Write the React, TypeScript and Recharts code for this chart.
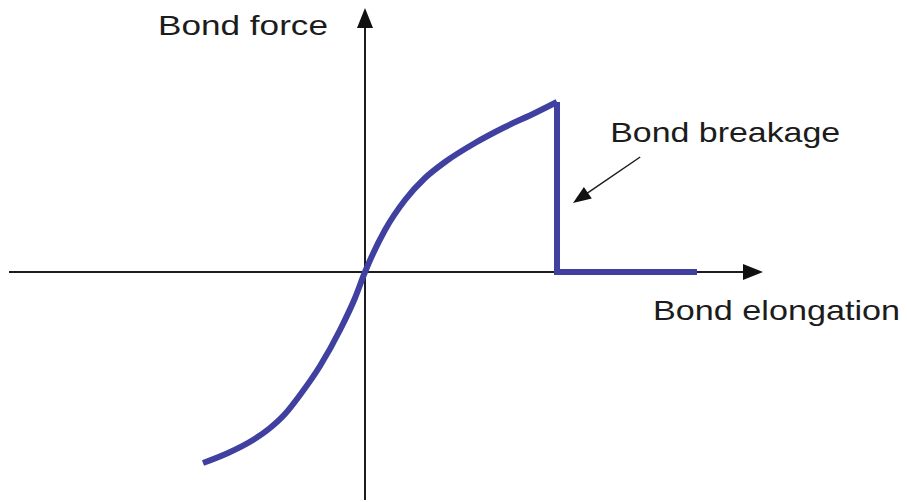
import React from "react";
import { LineChart, Line, XAxis, YAxis, ReferenceLine } from "recharts";

// bond law: force vs elongation (arbitrary units)
const curveElongation = [-4.05, -3.425, -2.8, -2.375, -2.0, -1.625, -1.125, -0.625, -0.25, 0, 0.5, 1.0, 1.5, 2.0, 2.75, 3.5, 4.25, 4.8];
const curveForce = [-3.82, -3.62, -3.36, -3.12, -2.84, -2.46, -1.88, -1.16, -0.52, 0, 0.84, 1.44, 1.88, 2.2, 2.58, 2.9, 3.18, 3.4];
const breakElongation = [4.8, 4.8, 8.3];
const breakForce = [3.4, 0, 0];

const xAxisEnds = [-8.9, 9.95];
const yAxisEnds = [-4.56, 5.28];
const breakageArrow = [
  { x: 6.88, y: 2.3 },
  { x: 5.2, y: 1.38 },
];

const labels = {
  force: "Bond force",
  elongation: "Bond elongation",
  breakage: "Bond breakage",
};

const curveData = curveElongation.map((x, i) => ({ x, y: curveForce[i] }));
const breakData = breakElongation.map((x, i) => ({ x, y: breakForce[i] }));

const BLUE = "#3f40a0";
const INK = "#1c1c1c";

const textStyle = { fontFamily: "'Liberation Sans', Arial, sans-serif", fontSize: 28, fill: INK };

function arrowHead(x1: number, y1: number, x2: number, y2: number, len: number, half: number) {
  const a = Math.atan2(y2 - y1, x2 - x1);
  const bx = x2 - len * Math.cos(a);
  const by = y2 - len * Math.sin(a);
  const px = -Math.sin(a) * half;
  const py = Math.cos(a) * half;
  return `${x2},${y2} ${bx + px},${by + py} ${bx - px},${by - py}`;
}

function ArrowShape(props: any) {
  const { x1, y1, x2, y2, width = 2, len = 20, half = 8, label } = props;
  const ang = Math.atan2(y2 - y1, x2 - x1);
  const ex = x2 - (len - 2) * Math.cos(ang);
  const ey = y2 - (len - 2) * Math.sin(ang);
  return (
    <g>
      <line x1={x1} y1={y1} x2={ex} y2={ey} stroke={INK} strokeWidth={width} />
      <polygon points={arrowHead(x1, y1, x2, y2, len, half)} fill="#111" />
      {label}
    </g>
  );
}

export default function App() {
  return (
    <div style={{ position: "fixed", left: 0, top: 0, background: "#fff" }}>
      <LineChart width={907} height={503} margin={{ top: 0, right: 0, bottom: 0, left: 0 }}>
        <XAxis type="number" dataKey="x" domain={[-9.125, 13.55]} hide allowDataOverflow />
        <YAxis type="number" dataKey="y" domain={[-4.62, 5.44]} hide allowDataOverflow />
        <ReferenceLine
          segment={[
            { x: xAxisEnds[0], y: 0 },
            { x: xAxisEnds[1], y: 0 },
          ]}
          shape={(p: any) => (
            <ArrowShape
              {...p}
              label={
                <text x={p.x2 + 137} y={p.y2 + 48} textAnchor="end" textLength={247} lengthAdjust="spacingAndGlyphs" style={textStyle}>
                  {labels.elongation}
                </text>
              }
            />
          )}
        />
        <ReferenceLine
          segment={[
            { x: 0, y: yAxisEnds[0] },
            { x: 0, y: yAxisEnds[1] },
          ]}
          shape={(p: any) => (
            <ArrowShape
              {...p}
              label={
                <text x={p.x2 - 207} y={p.y2 + 27} textLength={170} lengthAdjust="spacingAndGlyphs" style={textStyle}>
                  {labels.force}
                </text>
              }
            />
          )}
        />
        <ReferenceLine
          segment={breakageArrow}
          shape={(p: any) => (
            <ArrowShape
              {...p}
              width={1.5}
              len={18}
              half={7}
              label={
                <text x={p.x1 - 30} y={p.y1 - 15} textLength={230} lengthAdjust="spacingAndGlyphs" style={textStyle}>
                  {labels.breakage}
                </text>
              }
            />
          )}
        />
        <Line
          data={curveData}
          dataKey="y"
          type="monotone"
          stroke={BLUE}
          strokeWidth={6}
          strokeLinecap="butt"
          dot={false}
          activeDot={false}
          isAnimationActive={false}
        />
        <Line
          data={breakData}
          dataKey="y"
          type="linear"
          stroke={BLUE}
          strokeWidth={6}
          strokeLinejoin="miter"
          strokeLinecap="butt"
          dot={false}
          activeDot={false}
          isAnimationActive={false}
        />
      </LineChart>
    </div>
  );
}
